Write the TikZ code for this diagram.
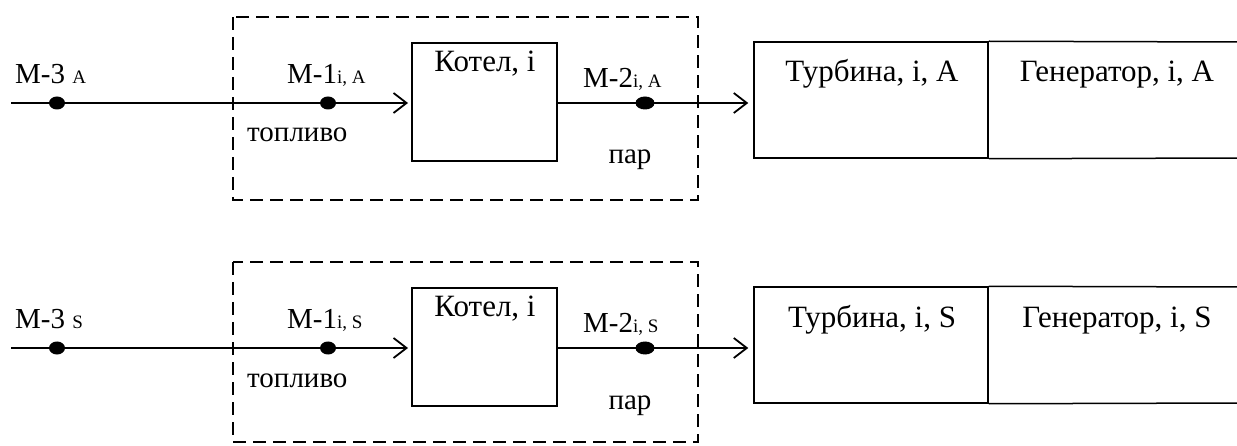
\documentclass[tikz,border=0pt]{standalone}
\usepackage{fontspec}
\setmainfont{Liberation Serif}
\usetikzlibrary{arrows.meta,shapes.geometric}
\newcommand{\smallsub}[1]{{\fontsize{19}{21}\selectfont #1}}
\tikzset{
  flow/.style={line width=1.8pt, -{Straight Barb[length=13pt,width=20pt,line width=1.8pt]}},
  blk/.style={draw, line width=1.5pt, inner sep=0pt},
  frame/.style={draw, line width=2pt, dash pattern=on 13pt off 7pt},
  dot/.style={ellipse, fill, inner sep=0pt, minimum width=16pt, minimum height=13pt},
  dotw/.style={ellipse, fill, inner sep=0pt, minimum width=19pt, minimum height=13pt},
  lbl/.style={inner sep=0pt, anchor=base, font=\fontsize{29}{33}\selectfont},
  lblw/.style={inner sep=0pt, anchor=base west, font=\fontsize{29}{33}\selectfont},
  ttl/.style={inner sep=0pt, anchor=base, font=\fontsize{31}{35}\selectfont}
}
\begin{document}
\begin{tikzpicture}[x=1pt,y=-1pt]
\useasboundingbox (0,0) rectangle (1237,446);
\foreach \r/\dy/\yb in {A/0/200, S/245/197}{
\begin{scope}[yshift=-\dy pt]
  % dashed frame
  \draw[frame] (233,17) rectangle (698,\yb);
  % boxes
  \node[blk, minimum width=145pt, minimum height=118pt] (kot\r) at (484.5,102) {};
  \node[blk, minimum width=234pt, minimum height=116pt] (tur\r) at (871,100) {};
  \coordinate (gne\r) at (1240,42);
  \coordinate (gse\r) at (1240,158);
  \draw[line width=1.5pt] (tur\r.north east) -- (gne\r);
  \draw[line width=1.5pt] (tur\r.south east) -- (gse\r);
  % texts
  \node[ttl] (kotT\r) at (485,72) {Котел, i};
  \node[ttl] (turT\r) at (872,82) {Турбина, i, \r};
  \node[ttl] (genT\r) at (1117,82) {Генератор, i, \r};
  \node[lblw] (m3T\r) at (15,84) {M-3 \smallsub{\r}};
  \node[lblw] (m1T\r) at (287,84) {M-1\smallsub{i, \r}};
  \node[lblw] (m2T\r) at (583,88) {M-2\smallsub{i, \r}};
  \node[lblw] (fuel\r) at (247,142) {топливо};
  \node[lbl] (steam\r) at (630,164) {пар};
  % flows
  \coordinate (in\r) at (11,103);
  \coordinate (k\r) at (412,103);
  \draw[flow, shorten >=4pt] (in\r) -- (k\r);
  \draw[flow, shorten >=5pt] (kot\r.east |- 0,103) -- (tur\r.west |- 0,103);
  \node[dot] (m3\r) at (57,103) {};
  \node[dot] (m1\r) at (328,103) {};
  \node[dotw] (m2\r) at (645,103) {};
\end{scope}
}
\end{tikzpicture}
\end{document}
